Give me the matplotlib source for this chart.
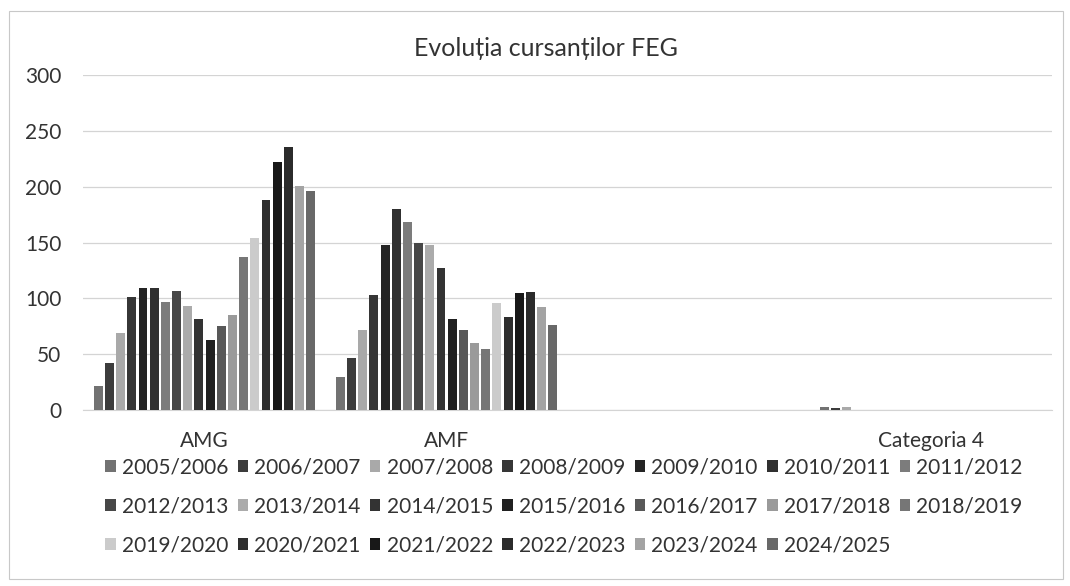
import numpy as np
import matplotlib.pyplot as plt
from matplotlib.patches import Rectangle

categories = ["AMG", "AMF", "", "Categoria 4"]
years = ["2005/2006", "2006/2007", "2007/2008", "2008/2009", "2009/2010",
         "2010/2011", "2011/2012", "2012/2013", "2013/2014", "2014/2015",
         "2015/2016", "2016/2017", "2017/2018", "2018/2019", "2019/2020",
         "2020/2021", "2021/2022", "2022/2023", "2023/2024", "2024/2025"]

amg = [22, 42, 69, 101, 109, 109, 97, 107, 93, 82,
       63, 75, 85, 137, 154, 188, 222, 236, 201, 196]
amf = [30, 47, 72, 103, 148, 180, 168, 150, 148, 127,
       82, 72, 60, 55, 96, 83, 105, 106, 92, 76]
cat3 = [0] * 20
cat4 = [3, 2, 3] + [0] * 17

# tonuri de gri citite din scanare
greys = ["#727272", "#3c3c3c", "#a9a9a9", "#363636", "#242424",
         "#303030", "#7c7c7c", "#474747", "#ababab", "#333333",
         "#202020", "#585858", "#9a9a9a", "#767676", "#cbcbcb",
         "#2e2e2e", "#181818", "#2b2b2b", "#a3a3a3", "#686868"]

plt.rcParams['font.family'] = ['Lato', 'DejaVu Sans']
txt = "#333333"

fig = plt.figure(figsize=(10.7, 5.86), dpi=100)
fig.patch.set_facecolor("white")
fig.patches.append(Rectangle((0.008, 0.012), 0.985, 0.97, transform=fig.transFigure,
                             fill=False, edgecolor="#c8c8c8", linewidth=0.8))

ax = fig.add_axes([0.078, 0.30, 0.905, 0.572])
data = np.array([amg, amf, cat3, cat4])
x = np.arange(len(categories))
step = 0.0462
width = 0.037
handles = []
for j in range(len(years)):
    b = ax.bar(x + (j - 9.5) * step, data[:, j], width, color=greys[j],
               label=years[j], zorder=3)
    handles.append(b)

ax.set_xlim(-0.5, 3.5)
ax.set_ylim(0, 300)
ax.set_yticks(range(0, 301, 50))
ax.set_xticks(x)
ax.set_xticklabels(categories)
ax.grid(axis="y", color="#d4d4d4", linewidth=0.9, zorder=0)
for s in ["top", "right", "left"]:
    ax.spines[s].set_visible(False)
ax.spines["bottom"].set_color("#d4d4d4")
ax.tick_params(axis="both", length=0, labelsize=15, colors=txt)
ax.tick_params(axis="y", pad=16)
ax.tick_params(axis="x", pad=15)

fig.text(0.51, 0.918, "Evoluția cursanților FEG", fontsize=18, color=txt,
         ha="center", va="center")

# ordinea legendei pe rânduri (7 pe rând)
order = []
for c in range(7):
    for r in range(3):
        k = r * 7 + c
        if k < len(years):
            order.append(k)
fig.legend([handles[k] for k in order], [years[k] for k in order],
           loc="upper center", bbox_to_anchor=(0.527, 0.252), ncol=7, frameon=False,
           fontsize=15, handlelength=0.5, handleheight=0.5, handletextpad=0.3,
           columnspacing=0.45, labelspacing=0.92, labelcolor=txt)

fig.savefig("out.png", dpi=100)
